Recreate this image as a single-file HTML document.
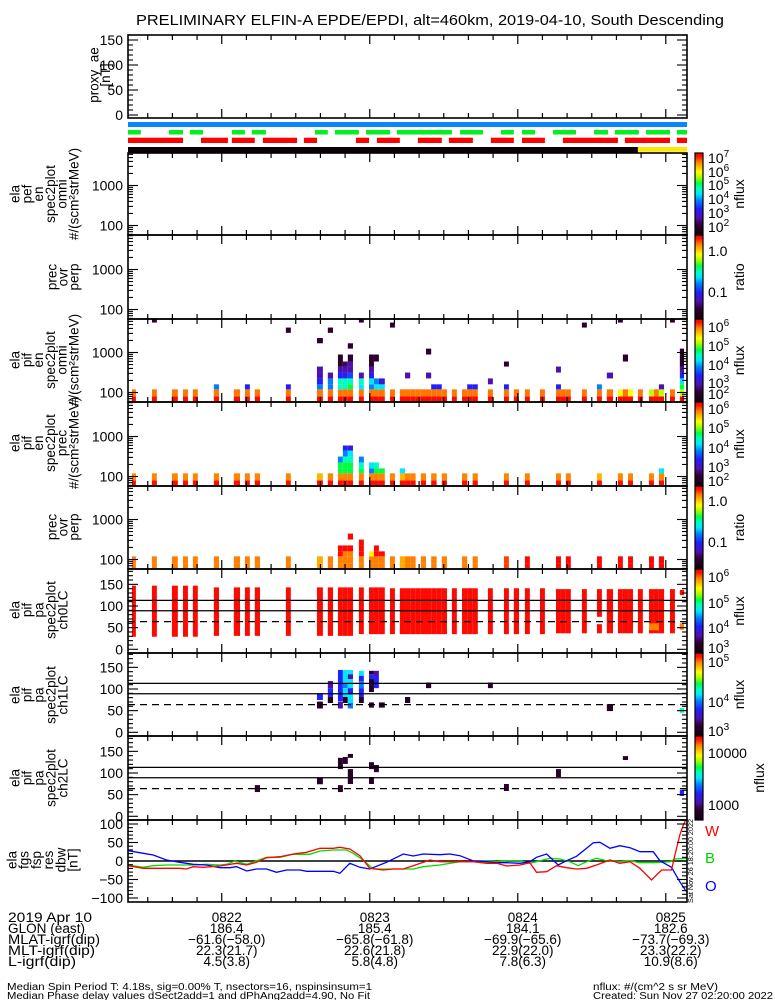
<!DOCTYPE html>
<html><head><meta charset="utf-8"><title>ELFIN-A EPDE/EPDI summary plot</title>
<style>
html,body{margin:0;padding:0;background:#fff;}
svg{display:block;font-family:"Liberation Sans",sans-serif;}
</style></head>
<body>
<svg id="chart" width="775" height="1000" viewBox="0 0 775 1000" xmlns="http://www.w3.org/2000/svg">
<rect x="0" y="0" width="775" height="1000" fill="#fff"/>
<defs><clipPath id="clipFgs"><rect x="128" y="820" width="559" height="82"/></clipPath></defs>
<text x="430" y="25" text-anchor="middle" font-size="14.5" textLength="588" lengthAdjust="spacingAndGlyphs">PRELIMINARY ELFIN-A EPDE/EPDI, alt=460km, 2019-04-10, South Descending</text>
</svg>
<script>
// ---------- DATA ----------
const colT0 = [21.1,29.2,37.3,41.8,45.8,54.3,62.4,66.9,70.9,83.5,96.1,100.5,104.6,106.6,108.6,113.1,117.2,119.2,121.2,125.7,129.7,131.8,133.9,136.1,138.2,140.3,142.4,144.6,146.7,150.8,154.9,157.0,159.2,165.4,171.9,175.9,180.4,186.5,193.0,195.0,197.0,203.5,209.6,213.6,218.1,220.1,222.2,226.2,230.7,232.7,234.7,239.2,243.2];
const colT1 = [22.7,31.2,39.7,43.8,47.8,56.4,64.9,68.9,73.0,85.5,98.5,102.6,106.6,108.6,110.7,115.1,119.2,121.2,123.6,127.7,131.8,133.9,136.1,138.2,140.3,142.4,144.6,146.7,148.8,152.8,157.0,159.2,161.3,167.4,173.9,178.0,182.4,188.5,195.0,197.0,199.0,205.5,211.6,216.1,220.1,222.2,224.2,228.2,232.7,234.7,236.8,241.2,244.9];
const energyEdges = [55,80,120,160,225,315,445,595,890,1250,1700,2300,3100,4200,5600,7500];
const spec3 = [[0,[6.2,5.8]],[1,[6.2,5.8]],[2,[6.2,5.8]],[3,[6.2,5.8]],[4,[6.2,5.8]],[5,[6.2,5.8,3.5]],[6,[6.2,5.8]],[7,[6.2,5.8,3.0]],[8,[6.2,5.8]],[9,[6.2,5.8,3.0]],
[10,[6.2,5.8,3.5,3.0,2.5,2.5]],[11,[6.2,5.8,3.5,3.5,2.5]],[12,[6.2,5.8,4.2,4.2,3.0,2.5,2.0,2.0]],[13,[6.2,5.8,4.2,4.2,3.0,2.5,2.2]],[14,[6.2,5.8,4.5,4.2,3.2,2.5,2.5,2.0]],[15,[6.2,5.8,3.9,4.2,2.5]],[16,[6.2,5.8,3.5,3.9,3.0,2.5,2.0,2.0]],[17,[6.2,5.8,3.9,3.5,null,null,null,2.0]],[18,[6.2,5.8,3.9,2.7]],[19,[6.2,5.8]],
[20,[6.2,5.8]],[21,[6.2,5.8]],[22,[6.2,5.8]],[23,[6.2,5.8]],[24,[6.2,5.8]],[25,[6.2,5.8]],[26,[6.2,5.8,3.0]],[27,[6.2,5.8,3.0]],[28,[6.2,5.8]],[29,[6.2,5.8]],[30,[6.2,5.8]],[31,[6.2,5.8,3.0]],[32,[6.2,5.8,3.0]],[33,[6.2,5.8]],[34,[6.2,5.8,3.0]],[35,[6.2,5.8]],[36,[6.2,5.8]],[37,[6.2,5.8]],[38,[6.2,5.8,3.0]],[39,[6.2,5.8]],[40,[6.2,5.8]],[41,[6.2,5.8]],[42,[6.2,5.8,3.5]],[43,[6.2,5.8]],[44,[6.2,5.2]],[45,[6.2,5.8]],[46,[6.2,5.2]],[47,[6.2,5.8]],[48,[6.2,4.95]],[49,[6.2,5.8]],[50,[6.2,4.95,2.5]],[51,[6.2,5.8]],[52,[6.2,4.95,4.5,3.9,3.0,2.5,2.0,2.0,2.0]]];
const dots3 = [[1,14,2.0],[9,12,2.0],[10,10,2.0],[11,12,2.0],[14,9,2.0],[15,14,2.0],[19,13,2.0],[21,4,2.5],[25,4,2.5],[25,8,2.0],[33,3,2.5],[34,6,2.0],[38,5,2.5],[41,13,2.0],[43,4,2.5],[44,14,2.0],[45,7,2.0],[51,14,2.0]];
const spec4 = [[0,[6.2,5.8]],[1,[6.2,5.8]],[2,[6.2,5.8]],[3,[6.2,5.8]],[4,[6.2,5.8]],[5,[6.2,5.8]],[6,[6.2,5.8]],[7,[6.2,5.8]],[8,[6.2,5.8]],[9,[6.2,5.8]],[10,[6.2,5.6]],[11,[6.2,5.8]],
[12,[6.2,5.8,4.64,4.64,3.69]],[13,[6.2,5.8,4.64,4.64,4.35,3.69,3.23]],[14,[6.2,5.8,4.64,4.64,4.35,4.05,3.0]],[15,[6.2,5.8,4.64,4.35,3.69]],[16,[6.2,5.8,3.69,4.05]],[17,[6.2,5.8,4.64,4.35]],[18,[6.2,5.8,4.64]],[19,[6.2,5.8]],[20,[6.2,5.6,4.05]],[21,[6.2,5.8]],[22,[6.2,5.8]],[24,[6.2,5.8]],[26,[6.2,5.8]],[28,[6.2,5.8]],[30,[6.2,5.8]],[32,[6.2,5.8]],[34,[6.2,5.8]],[36,[6.2,5.8]],[38,[6.2,5.8]],[40,[6.2,5.8]],[42,[6.2,5.6]],[44,[6.2,5.8]],[46,[6.2,5.8]],[48,[6.2,5.8]],[50,[6.2,5.8,4.05]]];
const spec5 = [[0,[0.14,0.14]],[1,[0.14,0.14]],[2,[0.14,0.14]],[3,[0.14,0.14]],[4,[0.14,0.14]],[5,[0.14,0.14]],[6,[0.14,0.14]],[7,[0.14,0.14]],[8,[0.14,0.14]],[9,[0.14,0.14]],[10,[0.06,0.06]],[11,[0.14,0.14]],
[12,[0.14,0.14,0.33,0.33]],[13,[0.14,0.14,0.14,0.33]],[14,[0.14,0.14,0.14,0.33,null,0.33]],[15,[0.14,0.14,0.33,0.33,0.33]],[16,[0.14,0.14,-0.08]],[17,[0.14,0.14,0.33,0.33]],[18,[0.14,0.14,0.33]],[19,[0.14,0.14]],[20,[0.06,0.06]],[21,[0.14,0.14]],[22,[0.14,0.14]],[24,[0.14,0.14]],[26,[0.14,0.14]],[28,[0.14,0.14]],[30,[0.14,0.14]],[32,[0.14,0.14]],[34,[0.22,0.22]],[36,[0.3,0.3]],[38,[0.33,0.33]],[40,[0.33,0.33]],[42,[0.33,0.33]],[44,[0.33,0.33]],[46,[0.33,0.33]],[48,[0.33,0.33]],[50,[0.33,0.33]]];
const pa6Lo = [29,29,29,29,29,31,31,31,31,31,31,31,31,31,31,35,35,35,35,35,35,35,35,35,35,35,35,35,35,35,35,35,35,35,35,35,35,35,37,37,37,37,75,37,37,37,37,37,37,37,37,37,125];
const pa6Hi = [147,147,147,147,147,143,143,143,143,143,143,143,143,143,143,143,143,143,143,141,141,141,141,141,141,141,141,141,141,141,141,141,141,141,141,141,141,141,139,139,139,139,139,139,139,139,139,139,139,139,139,139,137];
const pa6Val = [6.25,6.25,6.25,6.25,6.25,6.25,6.25,6.25,6.25,6.25,6.25,6.25,6.25,6.25,6.25,6.25,6.25,6.25,6.25,6.25,6.25,6.25,6.25,6.25,6.25,6.25,6.25,6.25,6.25,6.25,6.25,6.25,6.25,6.25,6.25,6.25,6.25,6.25,6.25,6.25,6.25,6.25,6.25,6.25,6.25,6.25,6.25,6.25,6.25,6.25,6.25,6.25,6.25];
const pa6Extra = [[42,37,58,6.25],[48,44,60,5.95],[49,44,60,5.95],[52,45,60,5.95]];
const pa7 = [[10,74.6,90,3.67],[10,55,71,3.1],[11,102,118.5,3.4],[11,81.5,102,3.67],[11,67.7,81.5,3.1],[12,72,144,3.67],[12,55,71,3.4],
[13,114,144,4.1],[13,102,114,3.9],[13,81.5,102,4.1],[13,67.7,81.5,3.1],[14,134,144,4.1],[14,123,134,3.4],[14,102,123,4.1],[14,88,102,3.67],[14,67.7,88,4.1],[14,55,67.7,3.9],
[15,130,142,4.1],[15,118,130,3.67],[15,102,118,3.9],[15,81.5,102,3.67],[15,67.7,81.5,3.1],[16,134,142,3.1],[16,123,134,3.67],[16,93,123,3.1],[16,57,69,3.1],[17,130,142,3.4],[17,102,130,3.67],[18,57,69,3.1],
[21,67.7,81.5,3.1],[25,102,115,3.1],[33,102,115,3.1],[43,49,65,3.1],[52,45,56,4.25]];
const pa8 = [[8,56,72,2.86],[10,74,90,2.86],[12,109,135,2.86],[12,56,72,2.86],[13,121,137,2.86],[14,135,144,2.86],[14,74.6,109,2.86],[16,109,125,2.86],[16,74.6,90.8,2.86],[17,102,118.5,2.86],[34,58.4,74.6,2.86],[38,90.8,109,2.86],[45,130,139,2.86],[52,47,61,3.23]];
const bT = [19.6,25.7,29.7,35.1,40.5,45.9,51.3,56.8,60.8,63.5,67.6,71.6,75.7,79.7,83.8,89.2,91.9,97.3,102.7,105.4,109.4,113.5,117.5,124.3,131.1,135.1,139.2,145.9,150.0,154.1,159.5,164.9,169,173,178.4,182.4,185.1,189.2,193.9,197.3,201.3,205.4,208.1,210.8,214.9,218.9,223,227,232.4,235.1,239.8,243.2,245.9];
const bV = [27.9,20.7,16.2,2.7,-3.6,-9,-10.8,-18,-18,-15.3,-27,-21.6,-21.6,-30.6,-24.3,-24.3,-27.9,-27.9,-27.9,-33.3,-6.3,-17.1,-21.6,-3.6,18.9,13.5,18.9,17.1,18.9,14.4,0,-1.8,-4.5,-4.5,-6.3,-1.8,9.9,18.9,-10.8,0.9,12.6,34.2,49.5,50.5,34.2,41.4,36,25.2,25.2,0.9,-17.1,-55.9,-82.9];
const rT = [19.6,25.7,29.7,35.1,40.5,43.2,45.9,50,56.8,63.5,67.6,71.6,75.7,81.1,86.5,91.9,97.3,102.7,105.4,109.4,113.5,117.5,123,127,131.1,135.1,141.9,145.9,150,154.1,159.5,164.9,169,173,178.4,182.4,185.1,189.2,193.2,197.3,201.3,205.4,209.4,214.9,218.9,223,227,231.7,235.8,239.8,241.2,243.2,244.6,245.9];
const rV = [-12.6,-19.8,-19.8,-19.8,-19.8,-21.6,-15.3,-17.1,-13.5,-6.3,-10.8,-3.6,9,11.7,18.9,23.4,34.2,34.2,36.9,32.4,14.4,-19.8,-24.3,-21.6,-21.6,-12.6,2.7,-1.8,-1.8,-1.8,-1.8,-6.3,-6.3,-13.5,-10.8,-4.5,-30.6,-28.8,-12.6,-18,-21.6,-19.8,-10.8,2.7,-6.3,-1.8,-19.8,-51.4,-24.3,-24.3,16.2,70.3,97.3,115];
const gT = [19.6,25.7,29.7,35.1,40.5,45.9,51.3,56.8,59.5,62.8,67.6,75.7,81.1,86.5,93.2,97.3,102.7,108.1,110.8,114.8,118.9,124.3,131.1,135.1,139.2,145.9,150,154.1,159.5,164.9,169,173,178.4,182.4,186.5,190.5,194.6,198.6,202,205.4,209.4,213.5,218.9,223,227,232.4,239.2,241.2,245.9];
const gV = [-10.8,-17.1,-12.6,-10.8,-10.8,-10.8,-9,-10.8,-9,0,-9,9.9,9.9,18,18,27,29.7,29.7,20.7,2.7,-21.6,-21.6,-21.6,-21.6,-15.3,-10.8,-6.3,-1.8,-1.8,0.9,-1.8,0.9,0.9,-6.3,0.9,7.2,5.4,-1.8,-12.6,-1.8,7.2,0.9,-1.8,0.9,-4.5,-4.5,-1.8,5.4,7.2];
const greenStart = [19.5,36.1,44.6,61.6,69.7,95.3,103.4,116.0,128.5,154.1,170.7,179.2,191.8,208.4,216.9,229.5,242.0];
const greenEnd   = [24.7,41.8,49.9,66.9,75.4,100.5,113.1,125.7,150.8,163.4,175.9,184.5,201.1,214.1,226.6,239.2,246.1];
const redStart = [19.5,49.1,61.6,74.2,90.8,111.9,120.4,137.0,149.6,166.6,179.2,195.8,220.9,242.0];
const redEnd   = [41.8,60.0,70.9,88.0,96.1,117.2,129.7,146.7,159.3,175.9,188.5,218.1,239.2,246.1];
const blackEnd = 226.2;
const majorTicks = [57.5,117.5,177.5,237.5];
const tickLabels = ['0822','0823','0824','0825'];
const glon = ['186.4','185.4','184.1','182.6'];
const mlat = ['\u221261.6(\u221258.0)','\u221265.8(\u221261.8)','\u221269.9(\u221265.6)','\u221273.7(\u221269.3)'];
const mlt = ['22.3(21.7)','22.6(21.8)','22.9(22.0)','23.3(22.2)'];
const lshell = ['4.5(3.8)','5.8(4.8)','7.8(6.3)','10.9(8.6)'];

// ---------- HELPERS ----------
const NS = 'http://www.w3.org/2000/svg';
const svg = document.getElementById('chart');
function mk(tag, attrs, name, parent) {
  const el = document.createElementNS(NS, tag);
  for (const k in attrs) el.setAttribute(k, attrs[k]);
  
  
  (parent || svg).appendChild(el);
  return el;
}
function txt(x, y, s, attrs, name, parent) {
  const el = mk('text', Object.assign({x: x, y: y, 'font-size': 14}, attrs || {}), name, parent);
  el.textContent = s;
  return el;
}
const X0 = 128, X1 = 687, T0 = 19.5, T1 = 246.1;
const xs = t => X0 + (t - T0) * (X1 - X0) / (T1 - T0);
const ey = (bottom, E) => bottom - 9.5 - 40 * Math.log10(E / 100);
const py = (bottom, d) => bottom - 3.7 - d * 0.433;
const fy = v => 861 - v * 0.37;
const ay = v => 115 - v * 0.5;
const STOPS = [[0,[16,0,16]],[0.12,[48,0,48]],[0.21,[80,16,176]],[0.32,[32,32,255]],[0.42,[0,128,255]],[0.5,[0,232,255]],[0.565,[0,255,192]],[0.63,[0,255,64]],[0.7,[160,255,0]],[0.77,[255,255,0]],[0.83,[255,192,0]],[0.89,[255,128,0]],[0.96,[255,16,0]],[1,[255,0,0]]];
function cmap(f) {
  f = Math.max(0, Math.min(1, f));
  for (let i = 1; i < STOPS.length; i++) {
    if (f <= STOPS[i][0]) {
      const a = STOPS[i-1], b = STOPS[i], u = (f - a[0]) / (b[0] - a[0]);
      const c = a[1].map((v, k) => Math.round(v + (b[1][k] - v) * u));
      return 'rgb(' + c.join(',') + ')';
    }
  }
  return 'rgb(255,0,0)';
}
const PAN = {proxy:[35,118], p1:[153,235], p2:[235,319], p3:[319,402], p4:[402,486], p5:[486,569], p6:[569,653], p7:[653,736], p8:[736,820], p9:[820,902]};

// ---------- STATUS BARS ----------
const gBars = mk('g', {}, 'status-bars');
mk('rect', {x: X0, y: 122, width: X1 - X0, height: 5, fill: '#0a84ff'}, 'blue-status-bar', gBars);
for (let i = 0; i < greenStart.length; i++) {
  mk('rect', {x: xs(greenStart[i]), y: 130, width: xs(greenEnd[i]) - xs(greenStart[i]), height: 4.5, fill: '#00f020'}, 'green-status-segment', gBars);
}
for (let i = 0; i < redStart.length; i++) {
  mk('rect', {x: xs(redStart[i]), y: 137.7, width: xs(redEnd[i]) - xs(redStart[i]), height: 5.3, fill: '#ff0000'}, 'red-status-segment', gBars);
}
mk('rect', {x: X0, y: 147, width: xs(blackEnd) - X0, height: 6, fill: '#0a0008'}, 'black-status-bar', gBars);
mk('rect', {x: xs(blackEnd), y: 147, width: X1 - xs(blackEnd), height: 4.7, fill: '#ffe800'}, 'yellow-status-bar', gBars);

// ---------- SPECTROGRAMS ----------
function drawSpec(profiles, bottom, top, lo, hi, name) {
  const g = mk('g', {}, name);
  profiles.forEach(p => {
    const ci = p[0], vals = p[1];
    vals.forEach((v, b) => {
      if (v === null || v === undefined) return;
      let y1 = ey(bottom, energyEdges[b + 1]), y0 = ey(bottom, energyEdges[b]);
      y1 = Math.max(y1, top); y0 = Math.min(y0, bottom);
      if (y0 <= y1) return;
      mk('rect', {x: xs(colT0[ci]), y: y1, width: xs(colT1[ci]) - xs(colT0[ci]), height: y0 - y1, fill: cmap((v - lo) / (hi - lo))}, 'spectrogram-cell', g);
    });
  });
  return g;
}
const g3 = drawSpec(spec3, PAN.p3[1], PAN.p3[0], 1.47, 6.3, 'pif-omni-spectrogram');
dots3.forEach(d => {
  const bottom = PAN.p3[1];
  const y1 = Math.max(ey(bottom, energyEdges[d[1] + 1]), PAN.p3[0]), y0 = ey(bottom, energyEdges[d[1]]);
  mk('rect', {x: xs(colT0[d[0]]), y: y1, width: xs(colT1[d[0]]) - xs(colT0[d[0]]), height: y0 - y1, fill: cmap((d[2] - 1.47) / (6.3 - 1.47))}, 'spectrogram-cell', g3);
});
drawSpec(spec4, PAN.p4[1], PAN.p4[0], 1.78, 6.32, 'pif-prec-spectrogram');
drawSpec(spec5, PAN.p5[1], PAN.p5[0], -1.64, 0.36, 'prec-ovr-perp-ratio-spectrogram');

// ---------- PITCH ANGLE ----------
function paCell(g, bottom, ci, lo, hi, v, vlo, vhi) {
  const y1 = py(bottom, hi), y0 = py(bottom, lo);
  mk('rect', {x: xs(colT0[ci]), y: y1, width: xs(colT1[ci]) - xs(colT0[ci]), height: y0 - y1, fill: cmap((v - vlo) / (vhi - vlo))}, 'pitch-angle-cell', g);
}
const g6 = mk('g', {}, 'pa-ch0-spectrogram');
for (let i = 0; i < pa6Lo.length; i++) paCell(g6, PAN.p6[1], i, pa6Lo[i], pa6Hi[i], pa6Val[i], 2.84, 6.34);
pa6Extra.forEach(e => paCell(g6, PAN.p6[1], e[0], e[1], e[2], e[3], 2.84, 6.34));
const g7 = mk('g', {}, 'pa-ch1-spectrogram');
pa7.forEach(e => paCell(g7, PAN.p7[1], e[0], e[1], e[2], e[3], 2.9, 5.3));
const g8 = mk('g', {}, 'pa-ch2-spectrogram');
pa8.forEach(e => paCell(g8, PAN.p8[1], e[0], e[1], e[2], e[3], 2.71, 4.33));
['p6','p7','p8'].forEach(k => {
  const b = PAN[k][1];
  mk('line', {x1: X0, x2: X1, y1: py(b, 113), y2: py(b, 113), stroke: '#000', 'stroke-width': 1.3}, 'loss-cone-line-upper', svg);
  mk('line', {x1: X0, x2: X1, y1: py(b, 89), y2: py(b, 89), stroke: '#000', 'stroke-width': 1.3}, 'perpendicular-line', svg);
  mk('line', {x1: X0, x2: X1, y1: py(b, 64), y2: py(b, 64), stroke: '#000', 'stroke-width': 1.3, 'stroke-dasharray': '7,5'}, 'loss-cone-line-dashed', svg);
});

// ---------- FGS ----------
const g9 = mk('g', {'clip-path': 'url(#clipFgs)'}, 'fgs-lines');
mk('line', {x1: X0, x2: X1, y1: fy(0), y2: fy(0), stroke: '#000', 'stroke-width': 1.5}, 'zero-line', g9);
function series(T, V, color, name) {
  const pts = T.map((t, i) => xs(t).toFixed(1) + ',' + fy(V[i]).toFixed(1)).join(' ');
  mk('polyline', {points: pts, fill: 'none', stroke: color, 'stroke-width': 1.3}, name, g9);
}
series(gT, gV, '#00e000', 'fgs-b-series');
series(bT, bV, '#0000ff', 'fgs-o-series');
series(rT, rV, '#ff0000', 'fgs-w-series');

// ---------- FRAMES & TICKS ----------
function frame(key, name) {
  const [top, bottom] = PAN[key];
  const g = mk('g', {}, name);
  mk('rect', {x: X0, y: top, width: X1 - X0, height: bottom - top, fill: 'none', stroke: '#000', 'stroke-width': 1.6}, 'panel-frame', g);
  for (let t = majorTicks[0] - 30; t <= T1; t += 10) {
    if (t < T0) continue;
    const isMaj = majorTicks.some(m => Math.abs(m - t) < 0.01);
    const L = isMaj ? 9 : 5;
    mk('line', {x1: xs(t), x2: xs(t), y1: bottom, y2: bottom - L, stroke: '#000', 'stroke-width': 1.2}, 'x-tick', g);
    mk('line', {x1: xs(t), x2: xs(t), y1: top, y2: top + L, stroke: '#000', 'stroke-width': 1.2}, 'x-tick', g);
  }
  return g;
}
function yTick(g, y, major) {
  const L = major ? 10 : 5;
  mk('line', {x1: X0, x2: X0 + L, y1: y, y2: y, stroke: '#000', 'stroke-width': 1.1}, 'y-tick', g);
  mk('line', {x1: X1, x2: X1 - L, y1: y, y2: y, stroke: '#000', 'stroke-width': 1.1}, 'y-tick', g);
}
function yLabel(y, s, g) {
  txt(123, y + 5, s, {'text-anchor': 'end'}, 'y-tick-label', g);
}
(function(){
  const g = frame('proxy', 'proxy-ae-panel');
  for (let v = 0; v <= 160; v += 10) yTick(g, ay(v), v % 50 === 0);
  [0,50,100,150].forEach(v => yLabel(ay(v), String(v), g));
})();
['p1','p2','p3','p4','p5'].forEach((k, idx) => {
  const g = frame(k, ['pef-omni-panel','pef-ratio-panel','pif-omni-panel','pif-prec-panel','pif-ratio-panel'][idx]);
  const [top, bottom] = PAN[k];
  [10,100,1000].forEach(dec => {
    for (let m = 1; m <= 9; m++) {
      const E = dec * m, y = ey(bottom, E);
      if (y < top + 0.5 || y > bottom - 0.5) continue;
      yTick(g, y, m === 1);
    }
  });
  yLabel(ey(bottom, 100), '100', g);
  yLabel(ey(bottom, 1000), '1000', g);
});
['p6','p7','p8'].forEach((k, idx) => {
  const g = frame(k, ['pa-ch0-panel','pa-ch1-panel','pa-ch2-panel'][idx]);
  const b = PAN[k][1];
  for (let d = 0; d <= 180; d += 10) yTick(g, py(b, d), d % 50 === 0);
  [0,50,100,150].forEach(d => yLabel(py(b, d), String(d), g));
});
(function(){
  const g = frame('p9', 'fgs-panel');
  for (let v = -100; v <= 110; v += 10) yTick(g, fy(v), v % 50 === 0);
  [-100,-50,0,50,100].forEach(v => yLabel(fy(v), (v < 0 ? '\u2212' : '') + Math.abs(v), g));
})();

// ---------- Y AXIS TITLES ----------
function vTitle(lines, firstX, lh, cy, name, size) {
  const g = mk('g', {}, name);
  lines.forEach((s, i) => {
    const cx = firstX + i * lh + 4.5;
    txt(0, 0, s, {'text-anchor': 'middle', 'font-size': size || 13.5, transform: 'translate(' + cx + ',' + cy + ') rotate(-90)'}, 'y-axis-title-line', g);
  });
}
vTitle(['proxy_ae','[nT]'], 94, 11.5, 75, 'proxy-ae-y-title');
vTitle(['ela','pef','en','spec2plot','omni','#/(scm\u00b2strMeV)'], 15, 11.8, 194, 'pef-omni-y-title');
vTitle(['prec','ovr','perp'], 52, 11, 277, 'pef-ratio-y-title');
vTitle(['ela','pif','en','spec2plot','omni','#/(scm\u00b2strMeV)'], 15, 11.8, 360, 'pif-omni-y-title');
vTitle(['ela','pif','en','spec2plot','prec','#/(scm\u00b2strMeV)'], 15, 11.8, 443, 'pif-prec-y-title');
vTitle(['prec','ovr','perp'], 52, 11, 527, 'pif-ratio-y-title');
vTitle(['ela','pif','pa','spec2plot','ch0LC'], 15, 12, 610, 'pa-ch0-y-title');
vTitle(['ela','pif','pa','spec2plot','ch1LC'], 15, 12, 695, 'pa-ch1-y-title');
vTitle(['ela','pif','pa','spec2plot','ch2LC'], 15, 12, 778, 'pa-ch2-y-title');
vTitle(['ela','fgs','fsp','res','dbw','[nT]'], 12, 12.2, 860, 'fgs-y-title');

// ---------- COLORBARS ----------
function colorbar(key, labels, title, titleX, name) {
  const [top, bottom] = PAN[key];
  const g = mk('g', {}, name);
  const n = Math.round(bottom - top);
  for (let i = 0; i < n; i++) {
    mk('rect', {x: 695, y: bottom - i - 1, width: 8, height: 1.05, fill: cmap((i + 0.5) / n)}, 'colorbar-step', g);
  }
  mk('rect', {x: 695, y: top, width: 8, height: bottom - top, fill: 'none', stroke: '#000', 'stroke-width': 1.2}, 'colorbar-frame', g);
  labels.forEach(l => {
    const t = txt(708, l[2] + 5, l[0], {}, 'colorbar-tick-label', g);
    if (l[1]) {
      const s = document.createElementNS(NS, 'tspan');
      s.setAttribute('dy', '-6');
      s.setAttribute('font-size', '10');
      s.textContent = l[1];
      t.appendChild(s);
    }
  });
  txt(0, 0, title, {'text-anchor': 'middle', transform: 'translate(' + titleX + ',' + ((top + bottom) / 2) + ') rotate(-90)'}, 'colorbar-title', g);
}
colorbar('p1', [['10','7',158],['10','6',172],['10','5',185],['10','4',199],['10','3',213],['10','2',227]], 'nflux', 744, 'colorbar-pef-omni');
colorbar('p2', [['1.0','',251],['0.1','',292]], 'ratio', 744, 'colorbar-pef-ratio');
colorbar('p3', [['10','6',327],['10','5',346],['10','4',365],['10','3',383],['10','2',394]], 'nflux', 744, 'colorbar-pif-omni');
colorbar('p4', [['10','6',409],['10','5',428],['10','4',448],['10','3',467],['10','2',481]], 'nflux', 744, 'colorbar-pif-prec');
colorbar('p5', [['1.0','',501],['0.1','',542]], 'ratio', 744, 'colorbar-pif-ratio');
colorbar('p6', [['10','6',577],['10','5',603],['10','4',628],['10','3',648]], 'nflux', 744, 'colorbar-pa-ch0');
colorbar('p7', [['10','5',662],['10','4',702],['10','3',731]], 'nflux', 744, 'colorbar-pa-ch1');
colorbar('p8', [['10000','',753],['1000','',805]], 'nflux', 764, 'colorbar-pa-ch2');

txt(705, 836, 'W', {fill: '#ff0000', 'font-size': 15}, 'legend-w', svg);
txt(705, 863, 'B', {fill: '#00d000', 'font-size': 15}, 'legend-b', svg);
txt(705, 891, 'O', {fill: '#0000ff', 'font-size': 15}, 'legend-o', svg);
txt(0, 0, 'Sat Nov 26 18:20:00 2022', {'font-size': 7.5, 'text-anchor': 'middle', textLength: 84, lengthAdjust: 'spacingAndGlyphs', transform: 'translate(693,861) rotate(-90)'}, 'plot-timestamp', svg);

// ---------- BOTTOM ANNOTATION ----------
const gAnn = mk('g', {}, 'orbit-annotation');
const rowY = [922, 933, 944, 955, 966];
const rowNames = ['2019 Apr 10','GLON (east)','MLAT-igrf(dip)','MLT-igrf(dip)','L-igrf(dip)'];
const rowW = [84, 77, 92, 87, 68];
rowNames.forEach((s, i) => txt(8, rowY[i], s, {textLength: rowW[i], lengthAdjust: 'spacingAndGlyphs', 'font-size': 13.5}, 'annotation-row-label', gAnn));
const rows = [tickLabels, glon, mlat, mlt, lshell];
rows.forEach((arr, r) => arr.forEach((s, i) => txt(xs(majorTicks[i]) + 5, rowY[r], s, {'text-anchor': 'middle', 'font-size': 13.5}, 'annotation-value', gAnn)));
txt(7, 990, 'Median Spin Period T: 4.18s, sig=0.00% T, nsectors=16, nspinsinsum=1', {'font-size': 10, textLength: 365, lengthAdjust: 'spacingAndGlyphs'}, 'footer-spin-period', gAnn);
txt(7, 999, 'Median Phase delay values dSect2add=1 and dPhAng2add=4.90, No Fit', {'font-size': 10, textLength: 363, lengthAdjust: 'spacingAndGlyphs'}, 'footer-phase-delay', gAnn);
txt(593, 990, 'nflux: #/(cm^2 s sr MeV)', {'font-size': 10, textLength: 125, lengthAdjust: 'spacingAndGlyphs'}, 'footer-units', gAnn);
txt(593, 999, 'Created: Sun Nov 27 02:20:00 2022', {'font-size': 10, textLength: 180, lengthAdjust: 'spacingAndGlyphs'}, 'footer-created', gAnn);
</script>
</body></html>
